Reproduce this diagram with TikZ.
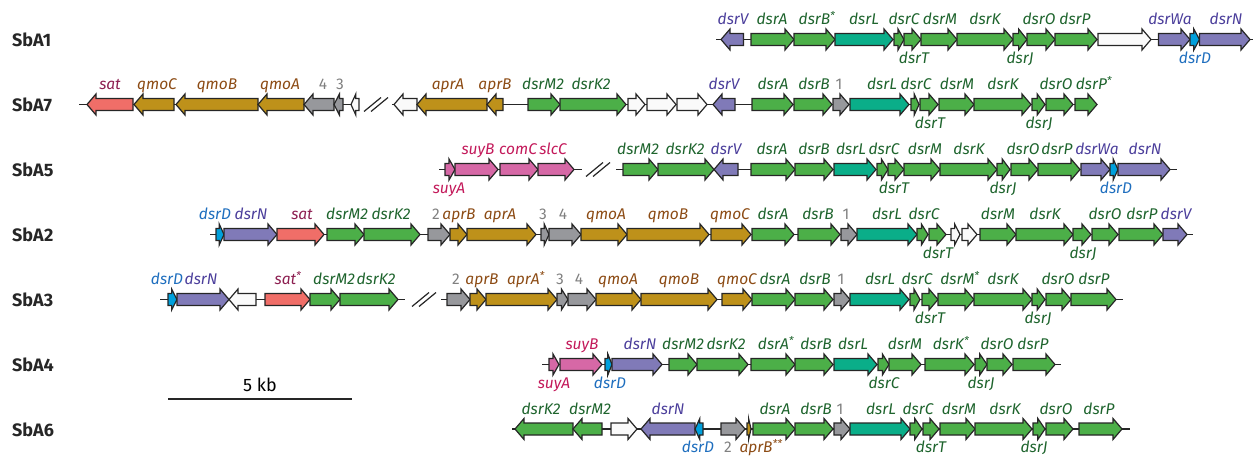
\documentclass[tikz,border=0pt]{standalone}
\usepackage{fontspec}
\setmainfont{Fira Sans}

\definecolor{grn}{HTML}{4CAF48}
\definecolor{tea}{HTML}{0AAE89}
\definecolor{pur}{HTML}{807AB8}
\definecolor{cya}{HTML}{00A0DC}
\definecolor{gld}{HTML}{BE911A}
\definecolor{gry}{HTML}{97989C}
\definecolor{sal}{HTML}{F06E68}
\definecolor{pnk}{HTML}{D668A6}
\definecolor{wht}{HTML}{FAFAFA}
\definecolor{tdsr}{HTML}{1E642D}
\definecolor{tpur}{HTML}{4B3E9B}
\definecolor{tcya}{HTML}{1E6EBE}
\definecolor{tgld}{HTML}{8C4B14}
\definecolor{tsat}{HTML}{8C1E50}
\definecolor{tpnk}{HTML}{C3195A}
\definecolor{tgry}{HTML}{808080}

% Gen-Pfeil: y, Ende, Spitze, Farbe
\newcommand{\gen}[4]{%
  \pgfmathsetmacro\hl{min(9,0.6*abs(#3-#2))}%
  \pgfmathsetmacro\xb{#3-ifthenelse(#3>#2,1,-1)*\hl}%
  \draw[gene,fill=#4] (#2,#1-6) -- (\xb,#1-6) -- (\xb,#1-10.5) -- (#3,#1)
    -- (\xb,#1+10.5) -- (\xb,#1+6) -- (#2,#1+6) -- cycle;}
% Bruch
\newcommand{\brk}[2]{\draw[gene] (#1,#2+7) -- (#1+17,#2-7) (#1+7,#2+7) -- (#1+24,#2-7);}
\newcommand{\sx}{\textsuperscript{*}}

\begin{document}
\begin{tikzpicture}[x=1pt,y=-1pt,
    gene/.style={draw=black!85,line width=1.2pt,line join=miter},
    bb/.style={draw=black!85,line width=1.2pt},
    lab/.style={font=\fontsize{15.5}{15.5}\selectfont\itshape,anchor=base,inner sep=0pt},
    row/.style={font=\fontsize{18}{18}\selectfont\bfseries,anchor=west,inner sep=0pt,text=black!85}]
    \useasboundingbox (0,0) rectangle (1255,455);

    % Namen
    \foreach \y/\n [count=\i] in {39.5/SbA1,104.5/SbA7,169.5/SbA5,234.5/SbA2,299.5/SbA3,364.5/SbA4,429.5/SbA6}
        \node[row] (name\i) at (12,\y) {\n};

    % Massstab
    \coordinate (s1) at (168,399);
    \coordinate (s2) at (352,399);
    \draw[line width=2.5pt,black!85] (s1) -- (s2);
    \node[font=\fontsize{18}{18}\selectfont,anchor=base,inner sep=0pt] (kb) at (260,391.5) {5 kb};

    % SbA1
    \draw[bb] (716,39.5) -- (1253,39.5);
    \foreach \a/\b/\c in {743.5/721/pur,751/794/grn,794/835/grn,835/893/tea,894/904/grn,904/921/grn,
        921/957/grn,957/1013/grn,1013/1027/grn,1027/1055/grn,1055/1097/grn,1098/1151/wht,
        1158.5/1190/pur,1190/1199.5/cya,1199.5/1250/pur}
        {\gen{39.5}{\a}{\b}{\c}}
    \foreach \x/\t/\c [count=\i] in {733/dsrV/tpur,772/dsrA/tdsr,817/dsrB\sx/tdsr,864/dsrL/tdsr,
        904/dsrC/tdsr,940/dsrM/tdsr,985/dsrK/tdsr,1039/dsrO/tdsr,1075/dsrP/tdsr,1170/dsrWa/tpur,1226/dsrN/tpur}
        \node[lab,text=\c] (a1o\i) at (\x,24.5) {\t};
    \foreach \x/\t/\c [count=\i] in {914/dsrT/tdsr,1020/dsrJ/tdsr,1195/dsrD/tcya}
        \node[lab,text=\c] (a1u\i) at (\x,63) {\t};

    % SbA7
    \draw[bb] (79,104.5) -- (359,104.5);
    \draw[bb] (392,104.5) -- (1097,104.5);
    \brk{364}{104.5}
    \foreach \a/\b/\c in {133/87/sal,174/134/gld,258/176/gld,304/258/gld,334/304/gry,343/334/gry,
        359/351/wht,417/394/wht,487/417/gld,503/487/gld,528/560/grn,560/626/grn,628/645/wht,
        647/676/wht,677/707/wht,735/713/pur,752/793/grn,794/832/grn,833/849/gry,850/909/tea,
        911/919/grn,920/938/grn,939/974/grn,974/1031/grn,1032/1045/grn,1046/1073/grn,1075/1097/grn}
        {\gen{104.5}{\a}{\b}{\c}}
    \foreach \x/\t/\c [count=\i] in {110/sat/tsat,157/qmoC/tgld,217/qmoB/tgld,280/qmoA/tgld,
        323/\textup{4}/tgry,340/\textup{3}/tgry,448/aprA/tgld,495/aprB/tgld,543/dsrM2/tdsr,
        591/dsrK2/tdsr,724/dsrV/tpur,773/dsrA/tdsr,814/dsrB/tdsr,839/\textup{1}/tgry,
        882/dsrL/tdsr,916/dsrC/tdsr,957/dsrM/tdsr,1003/dsrK/tdsr,1056/dsrO/tdsr,1094/dsrP\sx/tdsr}
        \node[lab,text=\c] (a7o\i) at (\x,89.5) {\t};
    \foreach \x/\t/\c [count=\i] in {930/dsrT/tdsr,1039/dsrJ/tdsr}
        \node[lab,text=\c] (a7u\i) at (\x,128) {\t};

    % SbA5
    \draw[bb] (439,169.5) -- (582,169.5);
    \draw[bb] (616,169.5) -- (1177,169.5);
    \brk{586}{169.5}
    \foreach \a/\b/\c in {445/455/pnk,455/498/pnk,500/538/pnk,538/574/pnk,623/658/grn,658/714/grn,
        738/714/pur,751/795/grn,795/833/grn,834/876/tea,877/888/grn,888/904/grn,904/940/grn,
        940/997/grn,997/1010/grn,1011/1038/grn,1038/1080/grn,1081/1110/pur,1110/1118/cya,1118/1170/pur}
        {\gen{169.5}{\a}{\b}{\c}}
    \foreach \x/\t/\c [count=\i] in {478/suyB/tpnk,518/comC/tpnk,553/slcC/tpnk,638/dsrM2/tdsr,
        685/dsrK2/tdsr,726/dsrV/tpur,772/dsrA/tdsr,814/dsrB/tdsr,851/dsrL/tdsr,884/dsrC/tdsr,
        925/dsrM/tdsr,969/dsrK/tdsr,1023/dsrO/tdsr,1057/dsrP/tdsr,1097/dsrWa/tpur,1145/dsrN/tpur}
        \node[lab,text=\c] (a5o\i) at (\x,154.5) {\t};
    \foreach \x/\t/\c [count=\i] in {449/suyA/tpnk,894/dsrT/tdsr,1003/dsrJ/tdsr,1116/dsrD/tcya}
        \node[lab,text=\c] (a5u\i) at (\x,193) {\t};

    % SbA2
    \draw[bb] (210,234.5) -- (1193,234.5);
    \foreach \a/\b/\c in {216/224/cya,224/277/pur,277/324/sal,327/364/grn,364/420/grn,428/450/gry,
        450/467/gld,467/536/gld,541/549/gry,549/581/gry,581/627/gld,627/709/gld,711/751/gld,
        752/794/grn,798/840/grn,841/857/gry,857/917/tea,917/928/grn,929/946/grn,951/960/wht,
        962/977/wht,980/1016/grn,1016/1073/grn,1073/1091/grn,1092/1118/grn,1119/1163/grn,1163/1187/pur}
        {\gen{234.5}{\a}{\b}{\c}}
    \foreach \x/\t/\c [count=\i] in {215/dsrD/tcya,251/dsrN/tpur,302/sat/tsat,347/dsrM2/tdsr,
        391/dsrK2/tdsr,436/\textup{2}/tgry,459/aprB/tgld,500/aprA/tgld,543/\textup{3}/tgry,
        563/\textup{4}/tgry,606/qmoA/tgld,668/qmoB/tgld,730/qmoC/tgld,773/dsrA/tdsr,818/dsrB/tdsr,
        846/\textup{1}/tgry,887/dsrL/tdsr,924/dsrC/tdsr,998/dsrM/tdsr,1045/dsrK/tdsr,
        1105/dsrO/tdsr,1142/dsrP/tdsr,1176/dsrV/tpur}
        \node[lab,text=\c] (a2o\i) at (\x,219.5) {\t};
    \foreach \x/\t/\c [count=\i] in {938/dsrT/tdsr,1083/dsrJ/tdsr}
        \node[lab,text=\c] (a2u\i) at (\x,258) {\t};

    % SbA3
    \draw[bb] (160,299.5) -- (405,299.5);
    \draw[bb] (441,299.5) -- (1123,299.5);
    \brk{412}{299.5}
    \foreach \a/\b/\c in {168/177/cya,177/229/pur,256/229/wht,265/310/sal,310/340/grn,340/398/grn,
        447/470/gry,470/486/gld,486/557/gld,557/568/gry,568/596/gry,596/641/gld,641/717/gld,
        722/752/gld,752/795/grn,795/833/grn,834/850/gry,850/909/tea,910/920/grn,922/938/grn,
        938/974/grn,974/1032/grn,1032/1045/grn,1046/1071/grn,1071/1116/grn}
        {\gen{299.5}{\a}{\b}{\c}}
    \foreach \x/\t/\c [count=\i] in {167/dsrD/tcya,201/dsrN/tpur,288/sat\sx/tsat,334/dsrM2/tdsr,
        376/dsrK2/tdsr,456/\textup{2}/tgry,482/aprB/tgld,526/aprA\sx/tgld,560/\textup{3}/tgry,
        579/\textup{4}/tgry,618/qmoA/tgld,679/qmoB/tgld,737/qmoC/tgld,775/dsrA/tdsr,815/dsrB/tdsr,
        841/\textup{1}/tgry,880/dsrL/tdsr,917/dsrC/tdsr,960/dsrM\sx/tdsr,1003/dsrK/tdsr,
        1058/dsrO/tdsr,1094/dsrP/tdsr}
        \node[lab,text=\c] (a3o\i) at (\x,284.5) {\t};
    \foreach \x/\t/\c [count=\i] in {930/dsrT/tdsr,1038/dsrJ/tdsr}
        \node[lab,text=\c] (a3u\i) at (\x,323) {\t};

    % SbA4
    \draw[bb] (542,364.5) -- (1061,364.5);
    \foreach \a/\b/\c in {549/559/pnk,560/602/pnk,605/612/cya,612/662/pur,669/697/grn,697/748/grn,
        751/795/grn,795/833/grn,834/877/tea,878/889/grn,889/921/grn,925/974/grn,975/987/grn,
        987/1012/grn,1013/1055/grn}
        {\gen{364.5}{\a}{\b}{\c}}
    \foreach \x/\t/\c [count=\i] in {582/suyB/tpnk,640/dsrN/tpur,683/dsrM2/tdsr,726/dsrK2/tdsr,
        776/dsrA\sx/tdsr,816/dsrB/tdsr,853/dsrL/tdsr,905/dsrM/tdsr,951/dsrK\sx/tdsr,
        997/dsrO/tdsr,1033/dsrP/tdsr}
        \node[lab,text=\c] (a4o\i) at (\x,349.5) {\t};
    \foreach \x/\t/\c [count=\i] in {554/suyA/tpnk,610/dsrD/tcya,884/dsrC/tdsr,981/dsrJ/tdsr}
        \node[lab,text=\c] (a4u\i) at (\x,388) {\t};

    % SbA6
    \draw[bb] (512,429) -- (1130,429);
    \foreach \a/\b/\c in {573/515/grn,602/573/grn,611/637/wht,695/641/pur,703/695/cya,721/745/gry,
        747/751/gld,753/795/grn,795/833/grn,834/850/gry,850/910/tea,910/922/grn,923/939/grn,
        940/975/grn,975/1032/grn,1033/1045/grn,1046/1073/grn,1079/1122/grn}
        {\gen{429}{\a}{\b}{\c}}
    \foreach \x/\t/\c [count=\i] in {541/dsrK2/tdsr,590/dsrM2/tdsr,668/dsrN/tpur,775/dsrA/tdsr,
        816/dsrB/tdsr,840/\textup{1}/tgry,881/dsrL/tdsr,918/dsrC/tdsr,959/dsrM/tdsr,
        1005/dsrK/tdsr,1056/dsrO/tdsr,1099/dsrP/tdsr}
        \node[lab,text=\c] (a6o\i) at (\x,414) {\t};
    \foreach \x/\t/\c [count=\i] in {698/dsrD/tcya,728/\textup{2}/tgry,761/aprB\textsuperscript{**}/tgld,
        931/dsrT/tdsr,1034/dsrJ/tdsr}
        \node[lab,text=\c] (a6u\i) at (\x,452.5) {\t};
\end{tikzpicture}
\end{document}
